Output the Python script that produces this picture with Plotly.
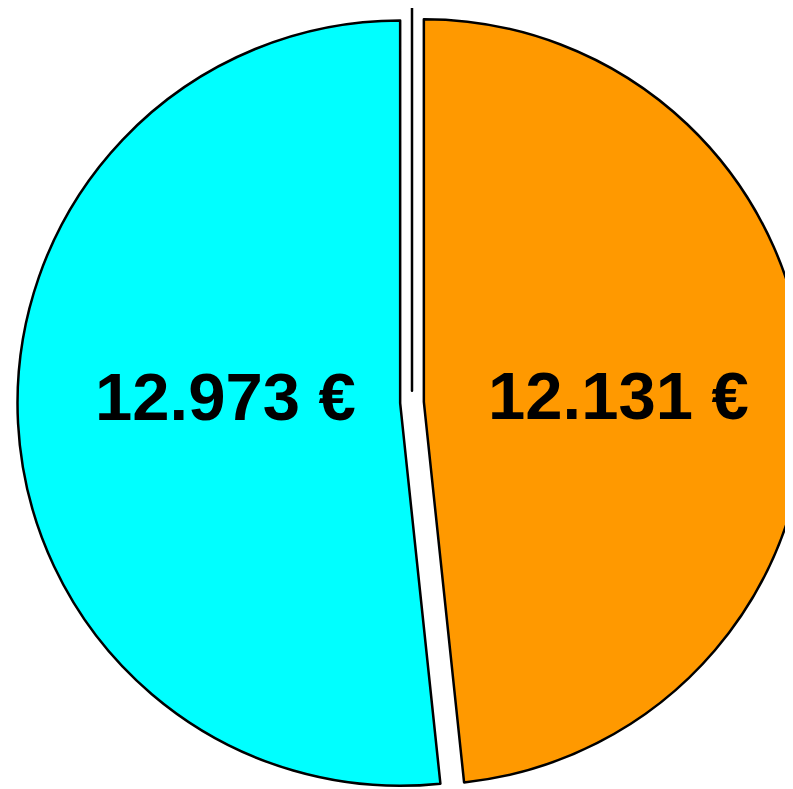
import plotly.graph_objects as go

# slices, clockwise from 12 o'clock; the first one is a near-empty divider slice
labels = ["", "B", "A"]
values = [0.000001, 12131, 12973]
text_labels = ["", "12.131 €", "12.973 €"]
colors = ["#000000", "#FF9900", "#00FFFF"]

fig = go.Figure(
    go.Pie(
        labels=labels,
        values=values,
        textinfo="none",
        marker=dict(colors=colors, line=dict(color="black", width=2.5)),
        pull=[0.031, 0.031, 0.031],
        sort=False,
        direction="clockwise",
        rotation=0,
        showlegend=False,
        hoverinfo="skip",
    )
)

# value labels, placed horizontally inside each half
label_pos = {"12.131 €": (0.755, 0.5095), "12.973 €": (0.2692, 0.507)}
for t in text_labels:
    if not t:
        continue
    x, y = label_pos[t]
    fig.add_annotation(
        x=x, y=y, xref="paper", yref="paper",
        text=t, showarrow=False,
        xanchor="center", yanchor="middle",
        font=dict(family="Liberation Sans, Arial, sans-serif", size=67,
                  color="black", weight="bold"),
    )

fig.update_layout(
    width=808,
    height=789,
    margin=dict(l=0, r=0, t=0, b=0),
    paper_bgcolor="white",
    plot_bgcolor="white",
)
fig.write_html("out.html")
